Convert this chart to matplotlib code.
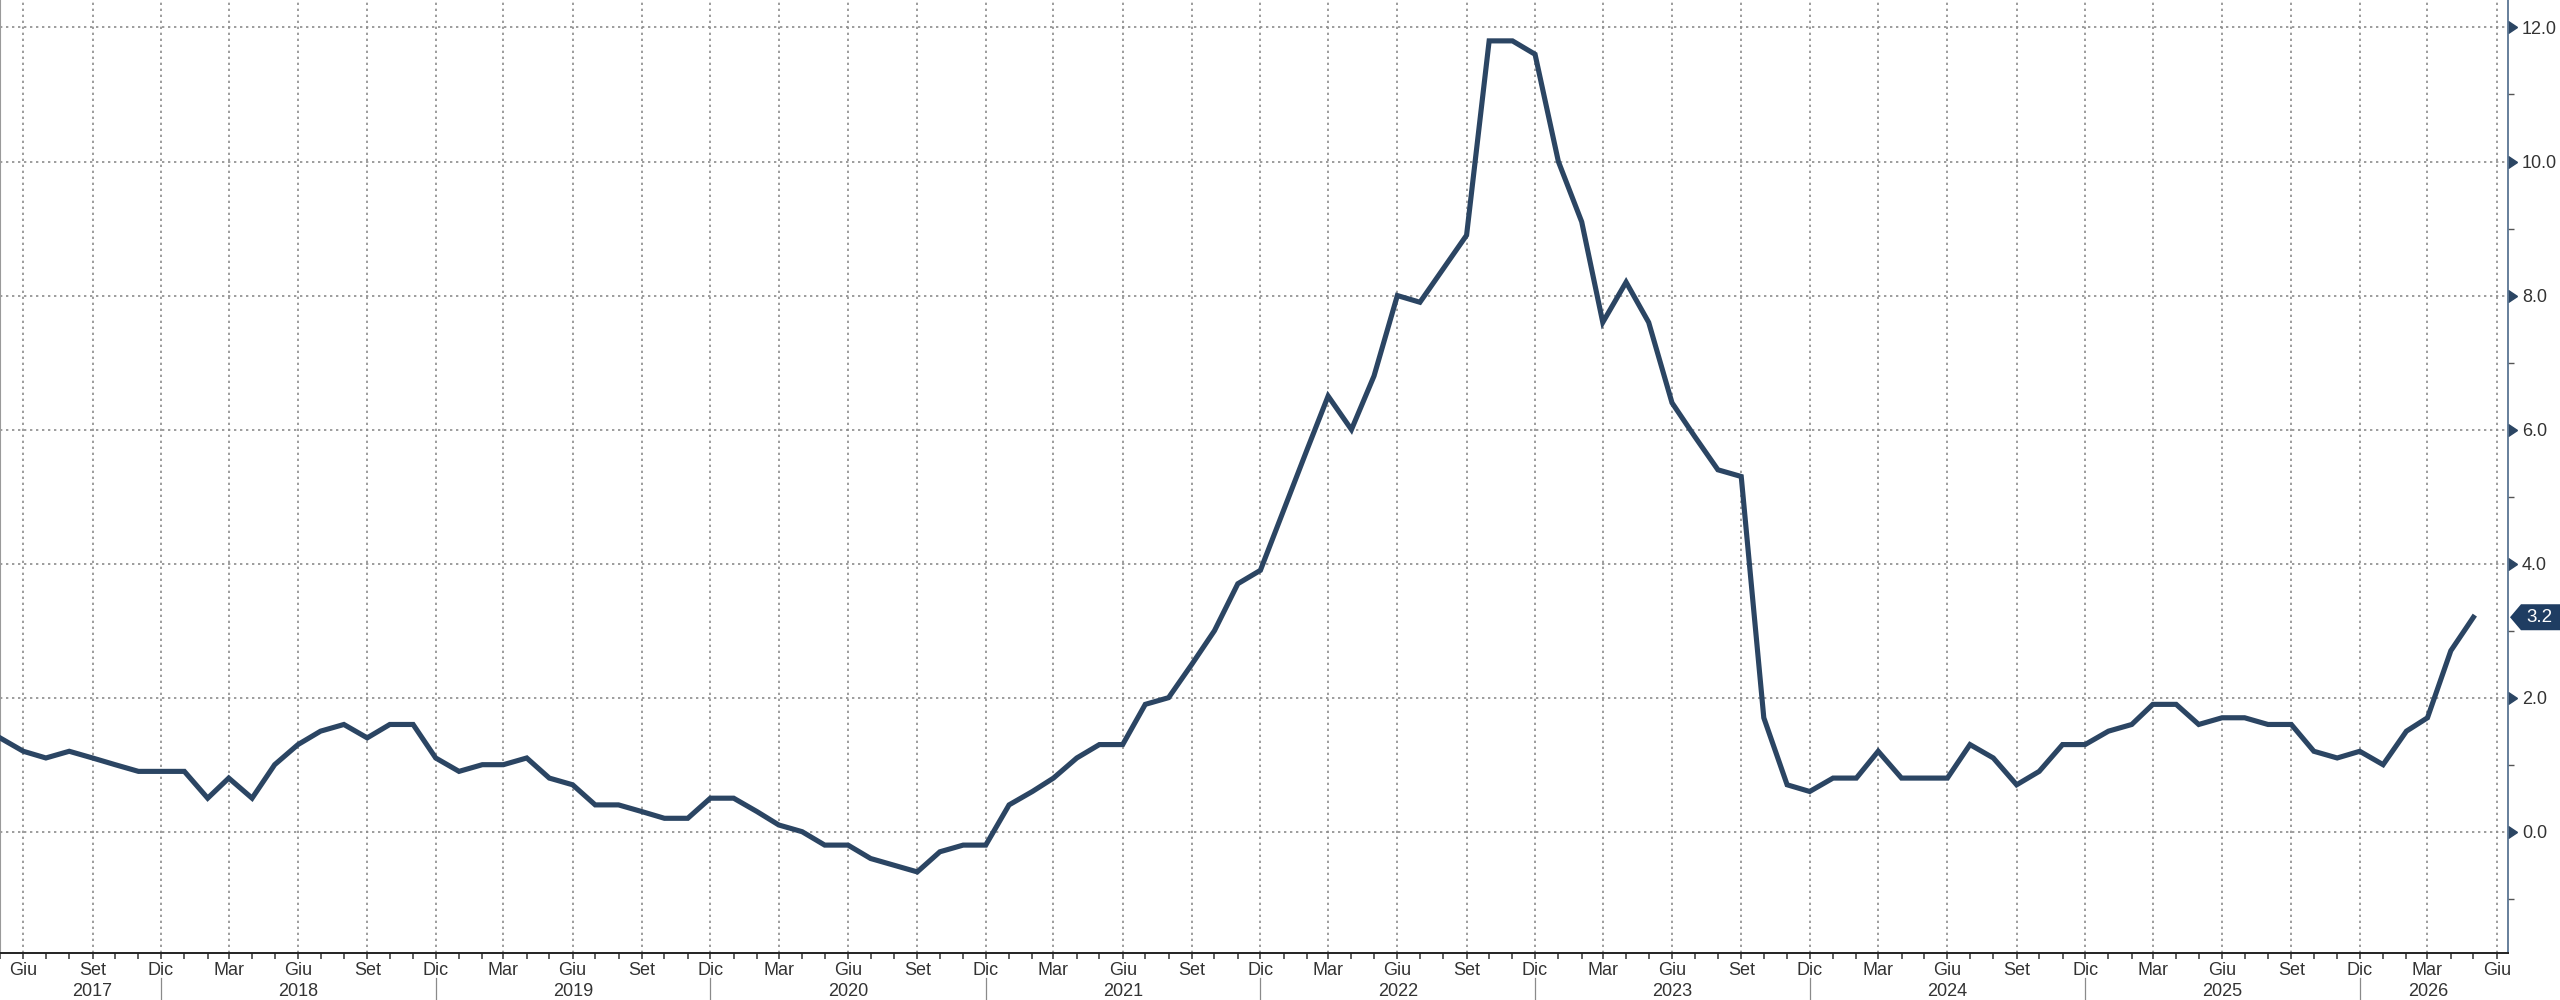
import datetime as dt

import matplotlib
matplotlib.use("Agg")
import matplotlib.pyplot as plt
import matplotlib.dates as mdates
import matplotlib.transforms as mtransforms
from matplotlib.patches import Polygon

# Italia, inflazione a/a (%), mensile da maggio 2017
start_year, start_month = 2017, 5
values = [
    1.4, 1.2, 1.1, 1.2, 1.1, 1.0, 0.9, 0.9,                        # 2017
    0.9, 0.5, 0.8, 0.5, 1.0, 1.3, 1.5, 1.6, 1.4, 1.6, 1.6, 1.1,     # 2018
    0.9, 1.0, 1.0, 1.1, 0.8, 0.7, 0.4, 0.4, 0.3, 0.2, 0.2, 0.5,     # 2019
    0.5, 0.3, 0.1, 0.0, -0.2, -0.2, -0.4, -0.5, -0.6, -0.3, -0.2, -0.2,  # 2020
    0.4, 0.6, 0.8, 1.1, 1.3, 1.3, 1.9, 2.0, 2.5, 3.0, 3.7, 3.9,     # 2021
    4.8, 5.7, 6.5, 6.0, 6.8, 8.0, 7.9, 8.4, 8.9, 11.8, 11.8, 11.6,  # 2022
    10.0, 9.1, 7.6, 8.2, 7.6, 6.4, 5.9, 5.4, 5.3, 1.7, 0.7, 0.6,    # 2023
    0.8, 0.8, 1.2, 0.8, 0.8, 0.8, 1.3, 1.1, 0.7, 0.9, 1.3, 1.3,     # 2024
    1.5, 1.6, 1.9, 1.9, 1.6, 1.7, 1.7, 1.6, 1.6, 1.2, 1.1, 1.2,     # 2025
    1.0, 1.5, 1.7, 2.7, 3.2,                                        # 2026
]
mesi = ["Gen", "Feb", "Mar", "Apr", "Mag", "Giu",
        "Lug", "Ago", "Set", "Ott", "Nov", "Dic"]
years = list(range(2017, 2027))
yticks = [0, 2, 4, 6, 8, 10, 12]
yminor = [-1, 1, 3, 5, 7, 9, 11]

LINE = "#2b4563"
TXT = "#333333"
GRID = "#8c8c8c"


def add_months(n):
    m = start_month - 1 + n
    return dt.date(start_year + m // 12, m % 12 + 1, 1)


dates = [add_months(i) for i in range(len(values))]

plt.rcParams["font.family"] = ["Liberation Sans", "DejaVu Sans"]

fig = plt.figure(figsize=(25.6, 10), dpi=100)
ax = fig.add_axes([0.0, 0.047, 2508 / 2560, 0.953])

ax.plot(dates, values, color=LINE, lw=3.7, solid_joinstyle="miter", zorder=3)

ax.set_xlim(dates[0], dt.date(2026, 6, 16))
ax.set_ylim(-1.81, 12.41)

# x axis: monthly ticks, labels every 3 months
ax.xaxis.set_major_locator(mdates.MonthLocator(bymonth=[3, 6, 9, 12]))
ax.xaxis.set_minor_locator(mdates.MonthLocator())
ax.xaxis.set_major_formatter(
    plt.FuncFormatter(lambda x, p: mesi[mdates.num2date(x).month - 1]))
ax.tick_params(axis="x", which="both", direction="out", length=4.5,
               width=1.1, color=TXT, labelsize=13, labelcolor=TXT, pad=2)

# y axis on the right
ax.yaxis.tick_right()
ax.set_yticks(yticks)
ax.set_yticks(yminor, minor=True)
ax.set_yticklabels([f"{v:.1f}" for v in yticks])
ax.tick_params(axis="y", which="major", length=0, pad=10,
               labelsize=13, labelcolor=TXT)
ax.tick_params(axis="y", which="minor", direction="out", length=4,
               width=1, color="#555555")
tri = mtransforms.blended_transform_factory(ax.transAxes, ax.transData)
ax.plot([1.0] * len(yticks), yticks, ls="none", marker=9, ms=8.5,
        color=LINE, transform=tri, clip_on=False)

ax.grid(True, which="major", linestyle=(0, (1.4, 2.2)), color=GRID, lw=1.2)

ax.spines["top"].set_visible(False)
ax.spines["left"].set_color("#9a9a9a")
ax.spines["left"].set_linewidth(0.8)
ax.spines["right"].set_color("#4d6a8a")
ax.spines["right"].set_linewidth(1.2)
ax.spines["bottom"].set_color("#222222")
ax.spines["bottom"].set_linewidth(1.4)

# year labels and separators
yr = mtransforms.blended_transform_factory(ax.transData, fig.transFigure)
first_lab = dt.date(2017, 6, 1)
last_lab = dt.date(2026, 6, 1)
for y in years:
    a = max(dt.date(y - 1, 12, 1), first_lab)
    b = min(dt.date(y, 12, 1), last_lab)
    c = mdates.date2num(a) + (mdates.date2num(b) - mdates.date2num(a)) / 2
    ax.text(c, 0.009, str(y), transform=yr, ha="center", va="center",
            fontsize=13, color=TXT)
    if y < 2026:
        ax.plot([dt.date(y, 12, 1)] * 2, [0.0, 0.022], transform=yr,
                color="#8a8a8a", lw=0.9, clip_on=False)

# last value tag
W, H = fig.get_size_inches() * fig.dpi
yd = ax.transData.transform((mdates.date2num(dates[-1]), values[-1]))[1]
x0 = 2510
h = 13
pts = [(x0, yd), (x0 + 11, yd + h), (W, yd + h), (W, yd - h), (x0 + 11, yd - h)]
fig.add_artist(Polygon([(px / W, py / H) for px, py in pts], closed=True,
                       transform=fig.transFigure, facecolor="#1f3d62",
                       edgecolor="none"))
fig.text((x0 + 29) / W, yd / H, f"{values[-1]:.1f}", color="white",
         ha="center", va="center", fontsize=13.5)

fig.savefig("out.png", dpi=100)
